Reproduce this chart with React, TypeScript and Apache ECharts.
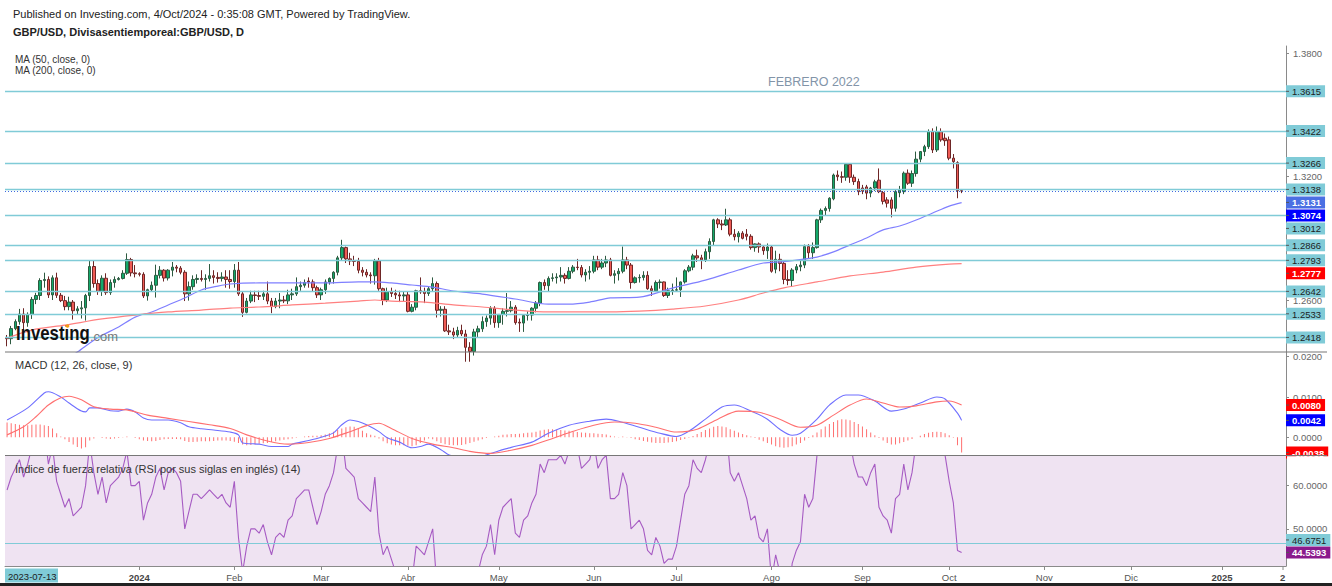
import React, { useEffect, useRef } from "react";
import * as echarts from "echarts";

const FONT = "'Liberation Sans', Arial, Helvetica, sans-serif";
const CATEGORY_COUNT = 310;
const MONTHS = ["Ene", "Feb", "Mar", "Abr", "May", "Jun", "Jul", "Ago", "Sep", "Oct", "Nov", "Dic"];

// daily candles [open, high, low, close], from 2023-11-16 (weekdays)
const ohlc: number[][] = [
  [1.2417,1.2430,1.2375,1.2412],[1.2412,1.2474,1.2385,1.2461],[1.2461,1.2506,1.2453,1.2495],[1.2495,1.2557,1.2480,1.2532],
  [1.2532,1.2560,1.2455,1.2490],[1.2490,1.2540,1.2470,1.2530],[1.2530,1.2615,1.2508,1.2603],[1.2603,1.2635,1.2580,1.2622],
  [1.2622,1.2706,1.2600,1.2695],[1.2695,1.2733,1.2660,1.2700],[1.2700,1.2715,1.2610,1.2625],[1.2625,1.2720,1.2600,1.2708],
  [1.2708,1.2733,1.2610,1.2623],[1.2623,1.2634,1.2590,1.2597],[1.2597,1.2620,1.2550,1.2568],[1.2568,1.2616,1.2550,1.2590],
  [1.2590,1.2600,1.2505,1.2548],[1.2548,1.2570,1.2530,1.2557],[1.2557,1.2595,1.2510,1.2562],[1.2562,1.2630,1.2500,1.2622],
  [1.2622,1.2794,1.2595,1.2763],[1.2763,1.2793,1.2660,1.2680],[1.2680,1.2700,1.2625,1.2642],[1.2642,1.2720,1.2620,1.2706],
  [1.2706,1.2730,1.2625,1.2636],[1.2636,1.2700,1.2625,1.2685],[1.2685,1.2715,1.2660,1.2700],[1.2700,1.2712,1.2695,1.2705],
  [1.2705,1.2745,1.2700,1.2730],[1.2730,1.2827,1.2722,1.2797],[1.2797,1.2805,1.2715,1.2732],[1.2732,1.2770,1.2710,1.2728],
  [1.2728,1.2735,1.2715,1.2725],[1.2725,1.2735,1.2610,1.2620],[1.2620,1.2655,1.2597,1.2650],[1.2650,1.2690,1.2640,1.2672],
  [1.2672,1.2772,1.2612,1.2720],[1.2720,1.2765,1.2705,1.2745],[1.2745,1.2750,1.2690,1.2707],[1.2707,1.2750,1.2695,1.2745],
  [1.2745,1.2785,1.2715,1.2760],[1.2760,1.2770,1.2735,1.2755],[1.2755,1.2765,1.2725,1.2735],[1.2735,1.2745,1.2595,1.2630],
  [1.2630,1.2690,1.2597,1.2665],[1.2665,1.2720,1.2650,1.2700],[1.2700,1.2725,1.2680,1.2705],[1.2705,1.2745,1.2690,1.2700],
  [1.2700,1.2725,1.2650,1.2705],[1.2705,1.2775,1.2690,1.2718],[1.2718,1.2745,1.2680,1.2710],[1.2710,1.2735,1.2685,1.2705],
  [1.2705,1.2735,1.2690,1.2712],[1.2712,1.2745,1.2660,1.2700],[1.2700,1.2745,1.2655,1.2690],[1.2690,1.2775,1.2660,1.2745],
  [1.2745,1.2785,1.2620,1.2630],[1.2630,1.2640,1.2518,1.2540],[1.2540,1.2610,1.2535,1.2595],[1.2595,1.2645,1.2585,1.2625],
  [1.2625,1.2645,1.2590,1.2622],[1.2622,1.2645,1.2600,1.2618],[1.2618,1.2645,1.2600,1.2630],[1.2630,1.2690,1.2580,1.2595],
  [1.2595,1.2610,1.2536,1.2568],[1.2568,1.2610,1.2560,1.2595],[1.2595,1.2634,1.2560,1.2600],[1.2600,1.2620,1.2585,1.2596],
  [1.2596,1.2650,1.2580,1.2625],[1.2625,1.2655,1.2600,1.2630],[1.2630,1.2710,1.2620,1.2665],[1.2665,1.2690,1.2645,1.2672],
  [1.2672,1.2700,1.2660,1.2685],[1.2692,1.2710,1.2660,1.2688],[1.2688,1.2700,1.2640,1.2660],[1.2660,1.2670,1.2610,1.2625],
  [1.2625,1.2660,1.2600,1.2650],[1.2650,1.2700,1.2630,1.2688],[1.2688,1.2710,1.2675,1.2705],[1.2705,1.2740,1.2680,1.2735],
  [1.2735,1.2815,1.2720,1.2805],[1.2805,1.2893,1.2790,1.2855],[1.2855,1.2860,1.2780,1.2800],[1.2800,1.2830,1.2770,1.2790],
  [1.2790,1.2815,1.2765,1.2788],[1.2788,1.2805,1.2730,1.2745],[1.2745,1.2760,1.2715,1.2735],[1.2735,1.2750,1.2710,1.2722],
  [1.2722,1.2735,1.2680,1.2718],[1.2718,1.2800,1.2675,1.2790],[1.2790,1.2805,1.2645,1.2655],[1.2655,1.2660,1.2575,1.2600],
  [1.2600,1.2660,1.2590,1.2640],[1.2640,1.2660,1.2615,1.2632],[1.2632,1.2650,1.2605,1.2625],[1.2625,1.2645,1.2590,1.2620],
  [1.2620,1.2640,1.2592,1.2625],[1.2625,1.2640,1.2540,1.2545],[1.2545,1.2580,1.2540,1.2565],[1.2565,1.2650,1.2550,1.2645],
  [1.2645,1.2710,1.2630,1.2640],[1.2640,1.2660,1.2585,1.2632],[1.2632,1.2665,1.2620,1.2655],[1.2655,1.2710,1.2640,1.2680],
  [1.2680,1.2690,1.2515,1.2550],[1.2550,1.2570,1.2520,1.2555],[1.2555,1.2570,1.2445,1.2450],[1.2450,1.2480,1.2430,1.2445],
  [1.2445,1.2465,1.2410,1.2430],[1.2430,1.2470,1.2420,1.2452],[1.2452,1.2480,1.2425,1.2435],[1.2435,1.2455,1.2300,1.2370],
  [1.2370,1.2395,1.2300,1.2350],[1.2350,1.2460,1.2330,1.2445],[1.2445,1.2475,1.2420,1.2460],[1.2460,1.2520,1.2445,1.2495],
  [1.2495,1.2525,1.2470,1.2512],[1.2512,1.2570,1.2480,1.2560],[1.2560,1.2570,1.2465,1.2490],[1.2490,1.2530,1.2465,1.2530],
  [1.2530,1.2560,1.2480,1.2545],[1.2545,1.2634,1.2520,1.2548],[1.2548,1.2595,1.2540,1.2565],[1.2565,1.2575,1.2480,1.2490],
  [1.2492,1.2510,1.2445,1.2488],[1.2488,1.2530,1.2445,1.2525],[1.2525,1.2545,1.2500,1.2527],[1.2527,1.2565,1.2500,1.2560],
  [1.2560,1.2595,1.2540,1.2585],[1.2585,1.2690,1.2570,1.2685],[1.2685,1.2700,1.2650,1.2670],[1.2670,1.2715,1.2640,1.2705],
  [1.2705,1.2730,1.2690,1.2708],[1.2708,1.2730,1.2680,1.2712],[1.2712,1.2760,1.2690,1.2720],[1.2720,1.2730,1.2680,1.2705],
  [1.2705,1.2760,1.2700,1.2740],[1.2740,1.2770,1.2730,1.2760],[1.2760,1.2800,1.2745,1.2758],[1.2758,1.2770,1.2710,1.2722],
  [1.2722,1.2750,1.2690,1.2735],[1.2735,1.2765,1.2700,1.2740],[1.2740,1.2815,1.2730,1.2795],[1.2795,1.2815,1.2745,1.2760],
  [1.2760,1.2800,1.2750,1.2780],[1.2780,1.2815,1.2760,1.2795],[1.2795,1.2805,1.2715,1.2720],[1.2720,1.2745,1.2680,1.2728],
  [1.2728,1.2755,1.2695,1.2740],[1.2740,1.2860,1.2730,1.2795],[1.2795,1.2810,1.2750,1.2770],[1.2770,1.2780,1.2655,1.2685],
  [1.2685,1.2715,1.2680,1.2708],[1.2708,1.2725,1.2685,1.2710],[1.2710,1.2740,1.2695,1.2720],[1.2720,1.2740,1.2650,1.2655],
  [1.2655,1.2670,1.2620,1.2645],[1.2645,1.2695,1.2640,1.2685],[1.2685,1.2700,1.2655,1.2688],[1.2688,1.2690,1.2615,1.2622],
  [1.2622,1.2660,1.2610,1.2645],[1.2645,1.2680,1.2625,1.2648],[1.2648,1.2710,1.2640,1.2650],[1.2650,1.2690,1.2615,1.2688],
  [1.2688,1.2750,1.2680,1.2742],[1.2742,1.2770,1.2735,1.2760],[1.2760,1.2825,1.2745,1.2815],[1.2815,1.2845,1.2785,1.2805],
  [1.2805,1.2820,1.2750,1.2795],[1.2795,1.2850,1.2785,1.2835],[1.2835,1.2900,1.2800,1.2885],[1.2885,1.2995,1.2865,1.2990],
  [1.2990,1.2998,1.2950,1.2970],[1.2970,1.2990,1.2940,1.2965],[1.2965,1.3044,1.2960,1.2990],[1.2990,1.3000,1.2910,1.2920],
  [1.2920,1.2945,1.2890,1.2908],[1.2908,1.2935,1.2880,1.2925],[1.2925,1.2935,1.2895,1.2900],[1.2920,1.2945,1.2890,1.2910],
  [1.2910,1.2920,1.2845,1.2855],[1.2855,1.2875,1.2835,1.2873],[1.2873,1.2880,1.2830,1.2858],[1.2858,1.2865,1.2820,1.2840],
  [1.2840,1.2875,1.2800,1.2858],[1.2858,1.2865,1.2733,1.2740],[1.2750,1.2840,1.2730,1.2798],[1.2798,1.2825,1.2740,1.2778],
  [1.2778,1.2790,1.2677,1.2700],[1.2700,1.2745,1.2672,1.2695],[1.2695,1.2755,1.2665,1.2746],[1.2746,1.2775,1.2730,1.2762],
  [1.2762,1.2790,1.2740,1.2770],[1.2770,1.2870,1.2755,1.2860],[1.2860,1.2872,1.2800,1.2830],[1.2830,1.2880,1.2800,1.2855],
  [1.2855,1.2995,1.2850,1.2990],[1.2990,1.3045,1.2975,1.3036],[1.3036,1.3055,1.3010,1.3045],[1.3045,1.3100,1.3030,1.3095],
  [1.3092,1.3215,1.3085,1.3208],[1.3208,1.3230,1.3180,1.3200],[1.3200,1.3225,1.3170,1.3197],[1.3197,1.3266,1.3180,1.3260],
  [1.3260,1.3265,1.3170,1.3197],[1.3197,1.3210,1.3160,1.3176],[1.3176,1.3190,1.3110,1.3127],[1.3145,1.3160,1.3115,1.3130],
  [1.3150,1.3160,1.3090,1.3120],[1.3120,1.3150,1.3100,1.3145],[1.3145,1.3185,1.3130,1.3175],[1.3183,1.3240,1.3120,1.3127],
  [1.3122,1.3130,1.3065,1.3080],[1.3087,1.3100,1.3050,1.3071],[1.3087,1.3100,1.3002,1.3046],[1.3046,1.3135,1.3030,1.3127],
  [1.3122,1.3155,1.3100,1.3135],[1.3127,1.3225,1.3115,1.3217],[1.3217,1.3235,1.3160,1.3168],[1.3168,1.3230,1.3150,1.3215],
  [1.3215,1.3322,1.3200,1.3285],[1.3285,1.3320,1.3270,1.3322],[1.3322,1.3355,1.3300,1.3346],[1.3346,1.3430,1.3335,1.3419],
  [1.3419,1.3435,1.3315,1.3330],[1.3330,1.3444,1.3320,1.3419],[1.3419,1.3435,1.3370,1.3379],[1.3387,1.3410,1.3350,1.3375],
  [1.3379,1.3395,1.3280,1.3290],[1.3290,1.3310,1.3240,1.3273],[1.3268,1.3275,1.3095,1.3132],[1.3132,1.3140,1.3120,1.3131],
];

// moving averages: [bar index, value]
const ma50Pts: number[][] = [
  [13,1.2294],[17,1.2347],[22,1.2418],[27,1.2469],[31,1.2517],[35,1.2542],[39,1.2576],[43,1.2610],[47,1.2649],[51,1.2668],
  [54,1.2678],[61,1.2683],[69,1.2683],[77,1.2683],[85,1.2688],[89,1.2688],[93,1.2683],[98,1.2673],[103,1.2663],[108,1.2644],
  [115,1.2629],[123,1.2605],[131,1.2580],[136,1.2580],[141,1.2590],[146,1.2610],[153,1.2614],[161,1.2658],[169,1.2697],
  [177,1.2746],[183,1.2780],[188,1.2787],[196,1.2809],[200,1.2834],[204,1.2868],[208,1.2902],[212,1.2941],[216,1.2960],
  [220,1.2989],[224,1.3023],[228,1.3057],[231,1.3074],
];
const ma200Pts: number[][] = [
  [0,1.2415],[6,1.2454],[14,1.2478],[23,1.2508],[31,1.2527],[39,1.2542],[47,1.2551],[54,1.2561],[61,1.2566],[69,1.2576],
  [77,1.2585],[85,1.2595],[89,1.2600],[93,1.2595],[101,1.2590],[108,1.2576],[115,1.2566],[123,1.2551],[131,1.2542],
  [139,1.2542],[146,1.2542],[153,1.2546],[161,1.2556],[169,1.2571],[177,1.2600],[183,1.2634],[188,1.2659],[196,1.2688],
  [204,1.2717],[212,1.2736],[220,1.2760],[228,1.2775],[231,1.2777],
];

// MACD (12, 26, close, 9)
const macdPts: number[][] = [
  [0,0.0043],[5,0.0073],[9,0.0110],[10,0.0113],[13,0.0100],[15,0.0085],[18,0.0065],[19,0.0063],[20,0.0073],[22,0.0073],
  [25,0.0066],[27,0.0065],[29,0.0070],[31,0.0063],[33,0.0048],[35,0.0043],[39,0.0043],[42,0.0036],[44,0.0026],[47,0.0021],
  [50,0.0018],[54,0.0013],[56,0.0006],[57,-0.0014],[61,-0.0017],[64,-0.0023],[68,-0.0023],[69,-0.0017],[73,-0.0008],
  [76,0.0000],[79,0.0011],[81,0.0031],[83,0.0043],[85,0.0039],[87,0.0031],[90,0.0014],[92,-0.0001],[95,-0.0012],
  [98,-0.0026],[100,-0.0023],[102,-0.0017],[105,-0.0031],[107,-0.0044],[110,-0.0050],[113,-0.0052],[117,-0.0040],
  [122,-0.0025],[127,-0.0012],[131,0.0010],[136,0.0030],[141,0.0040],[145,0.0045],[148,0.0040],[153,0.0025],[158,0.0010],
  [162,0.0002],[165,0.0015],[169,0.0045],[173,0.0075],[176,0.0080],[180,0.0065],[184,0.0045],[187,0.0020],[190,0.0005],
  [192,0.0010],[196,0.0045],[199,0.0080],[203,0.0105],[206,0.0105],[210,0.0090],[214,0.0065],[217,0.0070],[221,0.0085],
  [225,0.0100],[227,0.0095],[230,0.0060],[231,0.0042],
];
const signalPts: number[][] = [
  [0,0.0006],[4,0.0026],[7,0.0051],[10,0.0080],[13,0.0098],[15,0.0102],[18,0.0093],[21,0.0076],[25,0.0070],[29,0.0068],
  [34,0.0055],[39,0.0047],[44,0.0039],[49,0.0031],[54,0.0022],[58,0.0006],[63,-0.0009],[68,-0.0017],[73,-0.0013],
  [78,-0.0003],[83,0.0014],[87,0.0029],[90,0.0035],[93,0.0022],[98,-0.0003],[103,-0.0017],[108,-0.0026],[112,-0.0035],
  [117,-0.0040],[122,-0.0032],[127,-0.0020],[132,-0.0003],[137,0.0015],[142,0.0030],[147,0.0038],[152,0.0035],
  [157,0.0025],[162,0.0013],[167,0.0020],[172,0.0045],[177,0.0065],[182,0.0062],[187,0.0045],[192,0.0025],[196,0.0030],
  [200,0.0055],[204,0.0080],[208,0.0095],[212,0.0085],[216,0.0075],[220,0.0078],[225,0.0088],[228,0.0090],[231,0.0080],
];
// histogram, in units of 0.0001
const histogram: number[] = [
  37,35,33,31,30, 30,31,32,32,30, 28,22,10,2,-5, -12,-18,-24,-28,-25, -8,-3,0,-2,-3, -4,-3,-2,1,2,
  0,-2,-5,-8,-9, -10,-9,-7,-5,-4, -4,-4,-5,-9,-12, -12,-11,-10,-10,-10, -9,-8,-8,-8,-9,
  -11,-14,-18,-20,-19, -18,-16,-15,-14,-12, -10,-8,-6,-5,-3, -1,0,2,3,4, 4,5,7,10,14,
  18,22,25,27,26, 22,16,10,6,4, -3,-10,-15,-18,-20, -20,-20,-21,-22,-20, -14,-8,-3,-5,-10,
  -14,-17,-19,-20,-20, -19,-17,-14,-11,-8, -5,-2,0,2,4, 6,7,8,8,9, 10,11,12,14,17,
  19,20,20,19,18, 17,16,14,13,12, 11,10,10,9,8, 7,4,2,1,2, 1,-2,-5,-7,-9,
  -11,-13,-14,-14,-14, -13,-12,-10,-7,-4, -1,3,8,13,18, 22,26,28,27,25, 20,16,12,8,5,
  2,-2,-6,-10,-14, -18,-22,-25,-26,-25, -22,-18,-14,-8,-2, 5,12,20,27,33, 38,42,45,44,42,
  38,33,27,20,12, 5,-2,-8,-14,-18, -18,-15,-12,-8,-4, 0,4,8,11,13, 14,13,10,5,-1, -20,-38,
];

// RSI (14), one value per bar
const rsi: number[] = [
  59,62,64,66,62,65,69,70,73,73, 65,69,61,58,55,57,53,54,55,60,
  70,63,58,62,56,60,61,62,64,68, 60,60,61,52,56,58,62,64,59,63,
  64,63,61,50,54,58,58,57,58,59, 58,57,58,56,55,61,48,40,46,50,
  50,49,51,47,44,48,49,48,52,53, 57,58,59,59,55,51,54,58,60,63,
  69,72,64,63,62,57,56,55,54,62, 49,44,46,43,40,39,41,36,38,46,
  45,44,47,50,37,38,31,31,30,33, 31,27,26,37,40,44,46,51,44,52,
  55,56,57,49,48,52,53,56,58,65, 63,66,66,66,67,65,68,70,69,64,
  65,66,70,64,66,67,57,57,58,63, 60,50,51,52,50,45,44,48,46,42,
  43,43,46,52,58,60,66,64,63,66, 70,76,73,72,74,63,61,63,60,57,
  52,53,48,47,50,38,44,40,33,33, 42,45,47,58,55,57,67,71,72,75,
  79,77,76,79,70,65,62,62,60,63, 65,55,53,52,49,57,58,65,59,63,
  70,72,74,78,67,73,68,67,61,56, 45,44.5393,
];

const levelLines = [1.3615, 1.3422, 1.3266, 1.3138, 1.3012, 1.2866, 1.2793, 1.2642, 1.2533, 1.2418];
const lastPrice = 1.3131;
const rsiLevel = 46.6751;
const priceTicks = [1.24, 1.26, 1.28, 1.3, 1.32, 1.34, 1.36, 1.38];
const priceLabels = [1.26, 1.32, 1.38];
const macdTicks = [-0.01, 0, 0.01, 0.02];
const macdLabels = [0, 0.01, 0.02];
const rsiTicks = [50, 60];

function buildDates(): string[] {
  const out: string[] = [];
  const d = new Date(Date.UTC(2023, 10, 16));
  while (out.length < CATEGORY_COUNT) {
    const wd = d.getUTCDay();
    if (wd !== 0 && wd !== 6) out.push(d.toISOString().slice(0, 10));
    d.setUTCDate(d.getUTCDate() + 1);
  }
  return out;
}

function sparse(pts: number[][]): (number | null)[] {
  const arr: (number | null)[] = new Array(ohlc.length).fill(null);
  pts.forEach(([k, v]) => (arr[k] = v));
  return arr;
}

const CYAN = "#80cbd7";
const AX = 9.5;

function textW(t: string, size: number) {
  let em = 0;
  for (const ch of t) em += ch === "." ? 0.278 : ch === "-" ? 0.333 : 0.556;
  return em * size;
}

export default function App() {
  const ref = useRef<HTMLDivElement>(null);
  useEffect(() => {
    if (!ref.current) return;
    const chart = echarts.init(ref.current, null, { renderer: "svg" });
    const dates = buildDates();
    const monthStart = new Set<number>();
    dates.forEach((d, i) => {
      if (i > 0 && d.slice(0, 7) !== dates[i - 1].slice(0, 7) && d.slice(0, 4) !== "2023") monthStart.add(i);
    });
    const showIdx = (i: number) => monthStart.has(i);

    const xAxes = [0, 1, 2].map((g) => ({
      type: "category",
      gridIndex: g,
      data: dates,
      boundaryGap: true,
      axisLine: { show: g === 2, lineStyle: { color: "#8a8a8a", width: 1 } },
      axisTick: { show: g === 2, interval: (i: number) => showIdx(i), alignWithLabel: true, length: 4, lineStyle: { color: "#8a8a8a" } },
      axisLabel: {
        show: g === 2,
        interval: (i: number) => showIdx(i),
        color: "#555",
        fontSize: AX,
        fontFamily: FONT,
        margin: 6,
        hideOverlap: false,
        formatter: (v: string) => {
          const m = parseInt(v.slice(5, 7), 10);
          return m === 1 ? "{b|" + v.slice(0, 4) + "}" : MONTHS[m - 1];
        },
        rich: { b: { fontWeight: "bold", color: "#444", fontSize: AX, fontFamily: FONT } },
      },
      splitLine: { show: false },
    }));

    const yBase = (g: number, min: number, max: number, ticks: number[], labels: number[]) => ({
      type: "value",
      gridIndex: g,
      position: "right",
      min,
      max,
      axisLine: { show: true, lineStyle: { color: "#8a8a8a", width: 1 } },
      axisTick: { show: true, length: 3, customValues: ticks, lineStyle: { color: "#8a8a8a" } },
      axisLabel: {
        show: true,
        customValues: labels,
        formatter: (v: number) => v.toFixed(4),
        color: "#666",
        fontSize: AX,
        fontFamily: FONT,
        margin: 7,
      },
      splitLine: { show: false },
    });

    const option: any = {
      animation: false,
      backgroundColor: "#ffffff",
      textStyle: { fontFamily: FONT },
      grid: [
        { left: 5, top: 46, width: 1281, height: 306, outerBoundsMode: "none" },
        { left: 5, top: 352, width: 1281, height: 103.5, outerBoundsMode: "none" },
        { left: 5, top: 455.5, width: 1281, height: 110.5, show: true, backgroundColor: "#efe3f2", borderWidth: 0, outerBoundsMode: "none" },
      ],
      xAxis: xAxes,
      yAxis: [
        yBase(0, 1.23472, 1.38355, priceTicks, priceLabels),
        yBase(1, -0.00452, 0.02117, macdTicks, macdLabels),
        yBase(2, 41.4, 66.98, rsiTicks, rsiTicks),
      ],
      series: [
        {
          type: "candlestick",
          xAxisIndex: 0,
          yAxisIndex: 0,
          barWidth: 3,
          clip: true,
          data: ohlc.map(([o, h, l, c]) => [o, c, l, h]),
          itemStyle: { color: "#13a96a", color0: "#ef5b55", borderColor: "#2d5a40", borderColor0: "#6e2626", borderWidth: 1 },
          markLine: {
            silent: true,
            symbol: "none",
            precision: 4,
            label: { show: false },
            data: [
              ...levelLines.map((v) => ({ yAxis: v, lineStyle: { color: CYAN, width: 1.3, type: "solid" } })),
              { yAxis: lastPrice, lineStyle: { color: "#3f6ae0", width: 1.2, type: [1, 2] } },
            ],
          },
          z: 3,
        },
        {
          type: "line", xAxisIndex: 0, yAxisIndex: 0, data: sparse(ma50Pts), connectNulls: true, smooth: 0.3,
          showSymbol: false, symbol: "none", lineStyle: { color: "#7f7fff", width: 1.2 }, z: 4, clip: true,
        },
        {
          type: "line", xAxisIndex: 0, yAxisIndex: 0, data: sparse(ma200Pts), connectNulls: true, smooth: 0.3,
          showSymbol: false, symbol: "none", lineStyle: { color: "#ff8080", width: 1.2 }, z: 4, clip: true,
        },
        {
          type: "bar", xAxisIndex: 1, yAxisIndex: 1, barWidth: 1,
          data: histogram.map((v) => v / 10000), itemStyle: { color: "#ff7070" },
        },
        {
          type: "line", xAxisIndex: 1, yAxisIndex: 1, data: sparse(macdPts), connectNulls: true, smooth: 0.3,
          symbol: "none", lineStyle: { color: "#6f6fff", width: 1.1 }, clip: true,
        },
        {
          type: "line", xAxisIndex: 1, yAxisIndex: 1, data: sparse(signalPts), connectNulls: true, smooth: 0.3,
          symbol: "none", lineStyle: { color: "#ff6f6f", width: 1.1 }, clip: true,
        },
        {
          type: "line", xAxisIndex: 2, yAxisIndex: 2, data: rsi,
          symbol: "none", lineStyle: { color: "#a65bc3", width: 1.1 }, clip: true,
          markLine: {
            silent: true, symbol: "none", precision: 4, label: { show: false },
            data: [{ yAxis: rsiLevel, lineStyle: { color: CYAN, width: 1.2, type: "solid" } }],
          },
        },
      ],
    };
    chart.setOption(option);

    // value labels on the price scale, positioned through the axes
    const box = (y: number, text: string, bg: string, fg: string, bold: boolean) => ({
      type: "group",
      x: 1286,
      y,
      z: 100,
      children: [
        { type: "rect", z: 100, shape: { x: 0, y: -6, width: textW(text, AX) + 10, height: 12 }, style: { fill: bg } },
        { type: "line", z: 101, shape: { x1: 0, y1: 0, x2: 3, y2: 0 }, style: { stroke: "#555", lineWidth: 1 } },
        {
          type: "text", z: 101,
          style: { x: 6, y: 0.5, text, fill: fg, font: (bold ? "bold " : "") + AX + "px " + FONT, verticalAlign: "middle" },
        },
      ],
    });
    const py = (axis: number, v: number) => chart.convertToPixel({ yAxisIndex: axis } as any, v) as number;

    const lastMa50 = ma50Pts[ma50Pts.length - 1][1];
    const lastMa200 = ma200Pts[ma200Pts.length - 1][1];
    const mainLabels = [
      ...levelLines.map((v) => ({ v, bg: CYAN, fg: "#1d1d1d", bold: false })),
      { v: lastPrice, bg: "#4a6fe3", fg: "#ffffff", bold: true },
      { v: lastMa50, bg: "#0000ff", fg: "#ffffff", bold: true },
      { v: lastMa200, bg: "#ff0000", fg: "#ffffff", bold: true },
    ]
      .map((l) => ({ ...l, y: py(0, l.v) }))
      .sort((a, b) => a.y - b.y);
    for (let i = 1; i < mainLabels.length; i++) {
      mainLabels[i].y = Math.max(mainLabels[i].y, mainLabels[i - 1].y + 13);
    }
    const lastMacd = macdPts[macdPts.length - 1][1];
    const lastSignal = signalPts[signalPts.length - 1][1];
    const lastHist = histogram[histogram.length - 1] / 10000;
    const lastRsi = rsi[rsi.length - 1];
    const rsiLast = py(2, lastRsi);
    const rsiLvl = Math.min(py(2, rsiLevel), rsiLast - 12.5);

    const T = (x: number, y: number, text: string, font: string, fill: string, extra: any = {}) => ({
      type: "text", x, y, z: 50, ...extra, style: { text, font, fill, verticalAlign: "middle" },
    });

    const graphics: any[] = [
      T(13, 14, "Published on Investing.com, 4/Oct/2024 - 0:35:08 GMT, Powered by TradingView.", "11px " + FONT, "#222"),
      T(13, 32, "GBP/USD, Divisasentiemporeal:GBP/USD, D", "bold 11px " + FONT, "#222"),
      T(15, 59, "MA (50, close, 0)", "10px " + FONT, "#333"),
      T(15, 70, "MA (200, close, 0)", "10px " + FONT, "#333"),
      T(15, 365, "MACD (12, 26, close, 9)", "11px " + FONT, "#333"),
      T(15, 469, "Índice de fuerza relativa (RSI por sus siglas en inglés) (14)", "11px " + FONT, "#333"),
      T(768, 82, "FEBRERO 2022", "12.5px " + FONT, "#8294a8"),
      T(16, 333, "Investing", "bold 20px " + FONT, "#111", { scaleX: 0.84 }),
      T(90, 336.5, ".com", "13px " + FONT, "#7a7a7a"),
      { type: "circle", z: 51, shape: { cx: 67.5, cy: 326, r: 1.8 }, style: { fill: "#f39c12" } },
      { type: "line", z: 60, shape: { x1: 5, y1: 352, x2: 1327, y2: 352 }, style: { stroke: "#777", lineWidth: 1.2 } },
      { type: "line", z: 60, shape: { x1: 5, y1: 455.5, x2: 1327, y2: 455.5 }, style: { stroke: "#777", lineWidth: 1.2 } },
      { type: "rect", z: 60, shape: { x: 5, y: 568.5, width: 53, height: 14 }, style: { fill: CYAN } },
      T(8, 576, "2023-07-13", AX + "px " + FONT, "#1d1d1d", { z: 61 }),
      { type: "line", z: 60, shape: { x1: 1283, y1: 566, x2: 1283, y2: 570 }, style: { stroke: "#8a8a8a", lineWidth: 1 } },
      T(1280, 577, "2", "bold " + AX + "px " + FONT, "#444"),
      ...mainLabels.map((l) => box(l.y, l.v.toFixed(4), l.bg, l.fg, l.bold)),
      box(py(1, lastSignal), lastSignal.toFixed(4), "#ff0000", "#ffffff", true),
      box(py(1, lastMacd), lastMacd.toFixed(4), "#0000ff", "#ffffff", true),
      box(py(1, lastHist), lastHist.toFixed(4), "#ff0000", "#ffffff", true),
      { type: "rect", z: 120, shape: { x: 1287, y: 456.2, width: 45, height: 8 }, style: { fill: "#ffffff" } },
      { type: "line", z: 121, shape: { x1: 1286, y1: 455.5, x2: 1327, y2: 455.5 }, style: { stroke: "#777", lineWidth: 1.2 } },
      box(rsiLvl, rsiLevel.toFixed(4), CYAN, "#1d1d1d", false),
      box(rsiLast, lastRsi.toFixed(4), "#8a1a8c", "#ffffff", true),
      { type: "rect", z: 130, shape: { x: 0, y: 583, width: 1332, height: 3 }, style: { fill: "#222" } },
    ];
    chart.setOption({ graphic: graphics });

    return () => chart.dispose();
  }, []);

  return <div ref={ref} style={{ position: "absolute", left: 0, top: 0, width: 1332, height: 586 }} />;
}
